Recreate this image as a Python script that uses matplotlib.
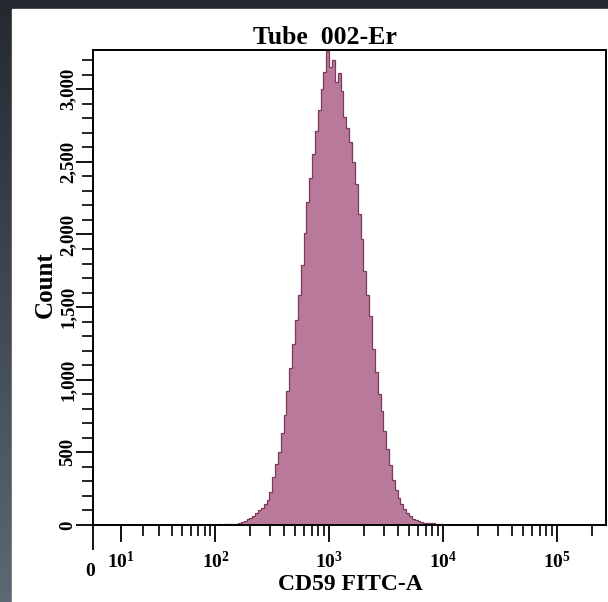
import numpy as np
import matplotlib.pyplot as plt
from matplotlib.colors import LinearSegmentedColormap
from matplotlib.patches import Rectangle

# CD59 FITC-A histogram, bins are 40 per decade from 10^2 to 10^4
bin_edges = 10 ** np.linspace(2, 4, 81)
counts = [3, 4, 3, 5, 6, 5, 8, 10, 13, 20,
          28, 40, 50, 65, 82, 100, 120, 145, 172, 230,
          330, 420, 505, 630, 760, 920, 1080, 1245, 1410, 1585,
          1790, 2010, 2225, 2390, 2555, 2710, 2860, 3000, 3120, 3265,
          3150, 3200, 3050, 3110, 2990, 2810, 2730, 2640, 2500, 2350,
          2140, 1970, 1750, 1580, 1440, 1215, 1050, 900, 785, 650,
          520, 410, 310, 240, 185, 145, 108, 85, 62, 44,
          32, 25, 20, 17, 15, 13, 12, 9, 6, 4]

x_major = [0, 10, 100, 1e3, 1e4, 1e5]
x_major_labels = ['', r'$\mathbf{10^{1}}$', r'$\mathbf{10^{2}}$', r'$\mathbf{10^{3}}$',
                  r'$\mathbf{10^{4}}$', r'$\mathbf{10^{5}}$']
x_minor = [m * d for d in (10, 100, 1000, 10000) for m in range(2, 10)] + [2e5]
y_major = [0, 500, 1000, 1500, 2000, 2500, 3000]
y_major_labels = ['0', '500', '1,000', '1,500', '2,000', '2,500', '3,000']
y_minor = list(range(100, 3300, 100))

plt.rcParams['font.family'] = ['Liberation Serif', 'DejaVu Serif']
plt.rcParams['font.weight'] = 'bold'
plt.rcParams['mathtext.fontset'] = 'custom'
plt.rcParams['mathtext.rm'] = 'Liberation Serif:bold'
plt.rcParams['mathtext.bf'] = 'Liberation Serif:bold'
plt.rcParams['mathtext.it'] = 'Liberation Serif:bold'

W, H = 608, 602
fig = plt.figure(figsize=(W / 100, H / 100), dpi=100)

# dark backdrop with a white panel
bg = fig.add_axes([0, 0, 1, 1])
grad = np.linspace(0, 1, 256).reshape(-1, 1)
cmap = LinearSegmentedColormap.from_list('bg', ['#23292f', '#5d6874'])
bg.imshow(grad, extent=[0, 1, 0, 1], aspect='auto', cmap=cmap)
bg.add_patch(Rectangle((12 / W, 0), 1, 1 - 9 / H, color='white'))
bg.set_xlim(0, 1)
bg.set_ylim(0, 1)
bg.axis('off')

ax = fig.add_axes([93 / W, 1 - 525 / H, (606 - 93) / W, (525 - 50) / H])
ax.set_facecolor('white')


def fwd(x):
    return np.arcsinh(np.asarray(x, dtype=float) / 17.0)


def inv(y):
    return 17.0 * np.sinh(np.asarray(y, dtype=float))


ax.set_xscale('function', functions=(fwd, inv))
ax.stairs(counts, bin_edges, fill=True, color='#b9799a', linewidth=0)
ax.stairs(counts, bin_edges, color='#7a3a5a', linewidth=0.9)
ax.plot([bin_edges[0], 200], [3, 3], color='#7a3a5a', linewidth=0.8)

ax.set_xlim(0, 2.67e5)
ax.set_ylim(0, 3270)

ax.set_xticks(x_major, labels=x_major_labels)
ax.set_xticks(x_minor, minor=True)
ax.set_yticks(y_major, labels=y_major_labels)
ax.set_yticks(y_minor, minor=True)

ax.tick_params(which='major', length=12, width=1.3, color='black')
ax.tick_params(which='minor', length=8, width=1.2, color='black')
ax.tick_params(axis='x', which='major', labelsize=14, pad=7)
ax.tick_params(axis='y', which='major', labelsize=13.5, pad=0, labelrotation=90)
for lab in ax.get_yticklabels():
    lab.set_va('center')
ax.xaxis.get_major_ticks()[0].tick1line.set_markersize(18)

for sp in ax.spines.values():
    sp.set_linewidth(1.4)

fig.text(325 / W, 1 - 44 / H, 'Tube  002-Er', ha='center', va='baseline',
         fontsize=18.5, fontweight='bold')
fig.text(350 / W, 1 - 590 / H, 'CD59 FITC-A', ha='center', va='baseline',
         fontsize=17, fontweight='bold')
fig.text(45 / W, 1 - 285 / H, 'Count', ha='center', va='center', rotation=90,
         fontsize=18, fontweight='bold')
fig.text(90 / W, 1 - 572 / H, '0', ha='center', va='center',
         fontsize=14, fontweight='bold')

fig.savefig('out.png', dpi=100)
